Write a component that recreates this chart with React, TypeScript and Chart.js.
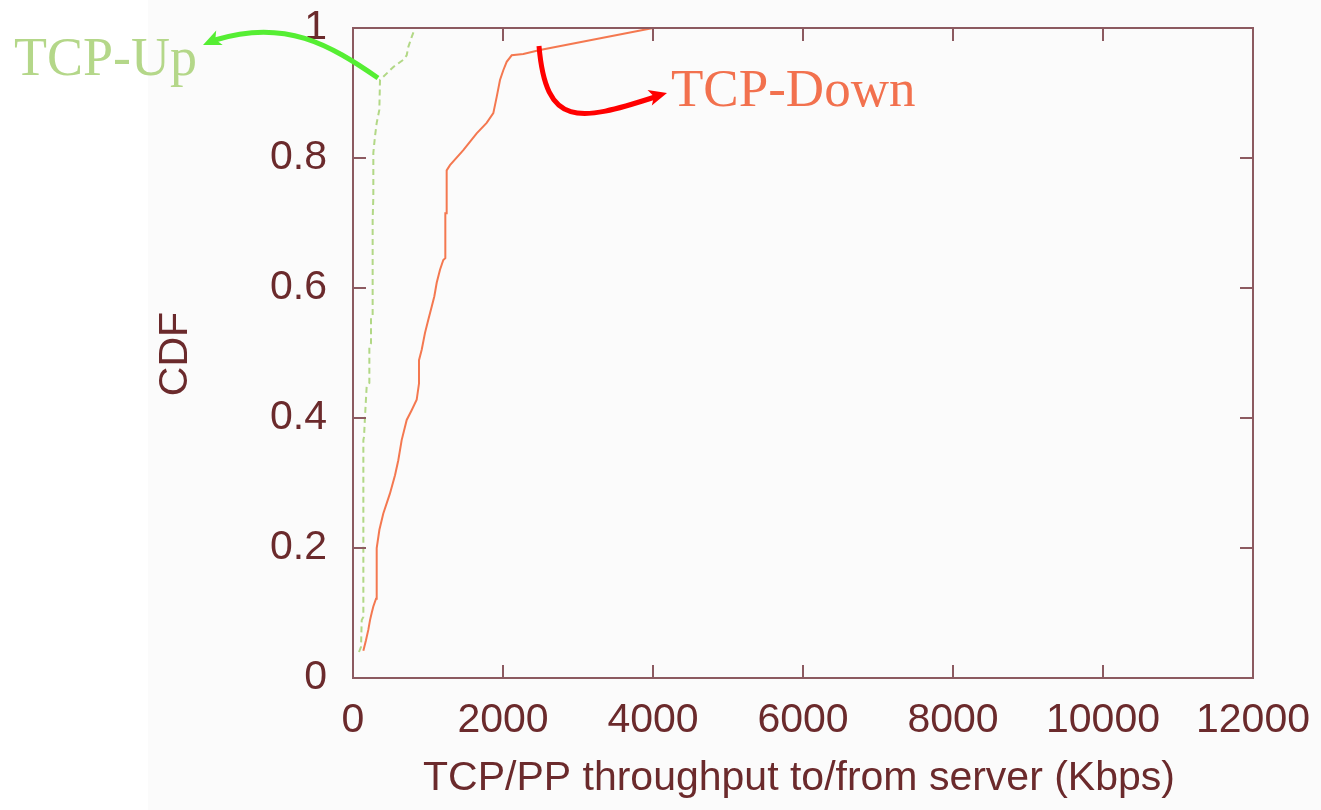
import React, { useEffect, useRef } from "react";
import { Chart, registerables } from "chart.js";

Chart.register(...registerables);

const xTickValues = [0, 2000, 4000, 6000, 8000, 10000, 12000];
const yTickValues = [0, 0.2, 0.4, 0.6, 0.8, 1];

const downX = [138, 173, 204, 227, 249, 271, 307, 316, 316, 352, 404, 493, 560, 604, 649, 716, 782, 849, 880, 880, 916, 960, 1004, 1049, 1084, 1116, 1160, 1204, 1231, 1231, 1249, 1249, 1293, 1471, 1649, 1782, 1871, 1916, 1960, 2004, 2049, 2116, 2271, 2493, 3916, 4004];
const downY = [0.042, 0.058, 0.074, 0.089, 0.1, 0.11, 0.122, 0.122, 0.2, 0.228, 0.253, 0.284, 0.312, 0.335, 0.366, 0.397, 0.412, 0.428, 0.453, 0.489, 0.505, 0.531, 0.551, 0.571, 0.587, 0.608, 0.628, 0.643, 0.646, 0.715, 0.715, 0.781, 0.789, 0.812, 0.838, 0.854, 0.869, 0.894, 0.92, 0.935, 0.948, 0.958, 0.96, 0.966, 0.998, 1.0];

const upX = [80, 107, 116, 138, 138, 147, 160, 182, 218, 218, 240, 240, 262, 262, 271, 271, 293, 316, 351, 360, 404, 538, 671, 716, 738, 782, 827];
const upY = [0.04, 0.048, 0.089, 0.094, 0.366, 0.371, 0.402, 0.448, 0.454, 0.51, 0.515, 0.554, 0.556, 0.705, 0.74, 0.808, 0.833, 0.854, 0.874, 0.92, 0.925, 0.94, 0.951, 0.958, 0.971, 0.986, 1.0];

const seriesNames = ["TCP-Down", "TCP-Up"];
const xTitle = "TCP/PP throughput to/from server (Kbps)";
const yTitle = "CDF";

const AXIS_COLOR = "#8c5a60";
const TEXT_COLOR = "#6b2a2c";

function drawArrowHead(ctx: CanvasRenderingContext2D, tipX: number, tipY: number, angle: number, len: number, half: number, color: string) {
  ctx.save();
  ctx.translate(tipX, tipY);
  ctx.rotate(angle);
  ctx.beginPath();
  ctx.moveTo(0, 0);
  ctx.lineTo(-len, -half);
  ctx.lineTo(-len * 0.75, 0);
  ctx.lineTo(-len, half);
  ctx.closePath();
  ctx.fillStyle = color;
  ctx.fill();
  ctx.restore();
}

const decorPlugin = {
  id: "decor",
  beforeDraw(chart: any) {
    const ctx = chart.ctx as CanvasRenderingContext2D;
    ctx.save();
    ctx.fillStyle = "#ffffff";
    ctx.fillRect(0, 0, chart.width, chart.height);
    ctx.fillStyle = "#fbfbfb";
    ctx.fillRect(148, 0, chart.width - 148, chart.height);
    ctx.restore();
  },
  afterDatasetsDraw(chart: any) {
    const ctx = chart.ctx as CanvasRenderingContext2D;
    const { left, right, top, bottom } = chart.chartArea;
    const xs = chart.scales.x;
    const ys = chart.scales.y;
    ctx.save();
    ctx.strokeStyle = AXIS_COLOR;
    ctx.lineWidth = 2;
    ctx.strokeRect(left, top, right - left, bottom - top);
    const tl = 13;
    ctx.beginPath();
    xTickValues.forEach((v) => {
      const px = Math.round(xs.getPixelForValue(v));
      if (px <= left + 1 || px >= right - 1) return;
      ctx.moveTo(px, bottom);
      ctx.lineTo(px, bottom - tl);
      ctx.moveTo(px, top);
      ctx.lineTo(px, top + tl);
    });
    yTickValues.forEach((v) => {
      const py = Math.round(ys.getPixelForValue(v));
      if (py <= top + 1 || py >= bottom - 1) return;
      ctx.moveTo(left, py);
      ctx.lineTo(left + tl, py);
      ctx.moveTo(right, py);
      ctx.lineTo(right - tl, py);
    });
    ctx.stroke();
    ctx.restore();
  },
  afterDraw(chart: any) {
    const ctx = chart.ctx as CanvasRenderingContext2D;
    const { left, right } = chart.chartArea;
    ctx.save();
    // axis titles
    ctx.fillStyle = TEXT_COLOR;
    ctx.font = '41px "Liberation Sans", Arial, sans-serif';
    ctx.textAlign = "center";
    ctx.textBaseline = "middle";
    ctx.fillText(xTitle, (left + right) / 2 - 4, 779);
    ctx.save();
    ctx.translate(176, 354);
    ctx.rotate(-Math.PI / 2);
    ctx.fillText(yTitle, 0, 0);
    ctx.restore();

    // series annotations
    ctx.textAlign = "left";
    ctx.textBaseline = "alphabetic";
    ctx.font = '54px "Liberation Serif", "Times New Roman", serif';
    ctx.fillStyle = "#b4d789";
    ctx.fillText(seriesNames[1], 14, 75);
    ctx.font = '53px "Liberation Serif", "Times New Roman", serif';
    ctx.fillStyle = "#f2714e";
    ctx.fillText(seriesNames[0], 671, 106);

    // green arrow
    ctx.lineCap = "butt";
    ctx.strokeStyle = "#55ee33";
    ctx.lineWidth = 5;
    ctx.beginPath();
    ctx.moveTo(378, 78);
    ctx.bezierCurveTo(330, 45, 285, 18, 215, 40);
    ctx.stroke();
    drawArrowHead(ctx, 203, 45, Math.atan2(8, -18), 18, 8, "#55ee33");

    // red arrow
    ctx.strokeStyle = "#ff0000";
    ctx.beginPath();
    ctx.moveTo(539, 46);
    ctx.bezierCurveTo(546, 128, 578, 122, 655, 97);
    ctx.stroke();
    drawArrowHead(ctx, 667, 93, Math.atan2(-5, 18), 18, 8, "#ff0000");
    ctx.restore();
  },
};

export default function App() {
  const canvasRef = useRef<HTMLCanvasElement | null>(null);

  useEffect(() => {
    if (!canvasRef.current) return;
    const downData = downX.map((x, i) => ({ x, y: downY[i] }));
    const upData = upX.map((x, i) => ({ x, y: upY[i] }));
    const chart = new Chart(canvasRef.current, {
      type: "scatter",
      data: {
        datasets: [
          {
            label: seriesNames[0],
            data: downData,
            showLine: true,
            borderColor: "#f47850",
            borderWidth: 2,
            pointRadius: 0,
            tension: 0,
          },
          {
            label: seriesNames[1],
            data: upData,
            showLine: true,
            borderColor: "#b2d886",
            borderWidth: 2,
            borderDash: [6, 4],
            pointRadius: 0,
            tension: 0,
          },
        ],
      },
      options: {
        animation: false,
        responsive: true,
        maintainAspectRatio: false,
        layout: { padding: { top: 28, right: 68, left: 0, bottom: 0 } },
        plugins: {
          legend: { display: false },
          tooltip: { enabled: false },
        },
        scales: {
          x: {
            type: "linear",
            min: 0,
            max: 12000,
            afterFit: (s: any) => {
              s.height = 132;
              s.paddingLeft = 0;
              s.paddingRight = 0;
              s.paddingTop = 0;
              s.paddingBottom = 0;
            },
            afterBuildTicks: (s: any) => {
              s.ticks = xTickValues.map((v) => ({ value: v }));
            },
            ticks: {
              callback: (v: any) => String(v),
              color: TEXT_COLOR,
              font: { family: '"Liberation Sans", Arial, sans-serif', size: 41 },
              padding: 18,
              maxRotation: 0,
              autoSkip: false,
            },
            grid: { display: false, drawTicks: false },
            border: { display: false },
          },
          y: {
            type: "linear",
            min: 0,
            max: 1,
            afterFit: (s: any) => {
              s.width = 353;
              s.paddingLeft = 0;
              s.paddingRight = 0;
              s.paddingTop = 0;
              s.paddingBottom = 0;
            },
            afterBuildTicks: (s: any) => {
              s.ticks = yTickValues.map((v) => ({ value: v }));
            },
            ticks: {
              callback: (v: any) => String(v),
              color: TEXT_COLOR,
              font: { family: '"Liberation Sans", Arial, sans-serif', size: 41 },
              padding: 26,
              autoSkip: false,
            },
            grid: { display: false, drawTicks: false },
            border: { display: false },
          },
        },
      },
      plugins: [decorPlugin],
    });
    return () => chart.destroy();
  }, []);

  return (
    <div style={{ position: "fixed", left: 0, top: 0, width: 1321, height: 810, background: "#ffffff" }}>
      <canvas ref={canvasRef} />
    </div>
  );
}
